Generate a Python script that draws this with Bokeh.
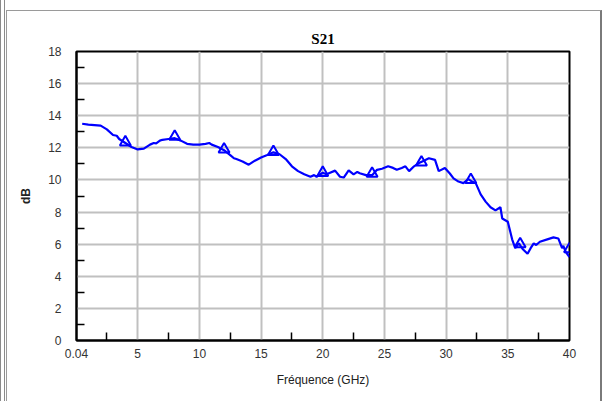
from bokeh.plotting import figure
from bokeh.models import Range1d, FixedTicker, ColumnDataSource, InlineStyleSheet
from bokeh.embed import file_html
from bokeh.resources import INLINE

# S21 trace (GHz, dB)
freq = [0.5, 1.0, 1.5, 2.0, 2.5, 3.0, 3.3, 3.5, 4.0, 4.5, 5.0, 5.5, 6.0, 6.3, 6.5,
        6.8, 7.0, 7.5, 8.0, 8.5, 9.0, 9.5, 10.0, 10.5, 10.8, 11.0, 11.5, 12.0,
        12.5, 12.8, 13.0, 13.5, 14.0, 14.5, 15.0, 15.5, 16.0, 16.5, 17.0, 17.5,
        18.0, 18.5, 19.0, 19.3, 19.5, 20.0, 20.3, 20.5, 21.0, 21.4, 21.7, 22.1,
        22.5, 22.8, 23.0, 23.5, 24.0, 24.4, 24.8, 25.3, 25.7, 26.0, 26.4, 26.7,
        27.0, 27.4, 27.8, 28.2, 28.6, 29.1, 29.4, 29.9, 30.3, 30.6, 31.0, 31.4,
        31.8, 32.1, 32.4, 32.8, 33.2, 33.6, 34.0, 34.4, 34.55, 35.0, 35.35, 35.6,
        35.9, 36.2, 36.6, 36.85, 37.1, 37.3, 37.6, 38.2, 38.7, 39.1, 39.4, 39.5,
        39.7, 40.0]
s21_db = [13.5, 13.45, 13.42, 13.38, 13.15, 12.8, 12.75, 12.55, 12.3, 12.05,
          11.9, 11.95, 12.2, 12.3, 12.28, 12.45, 12.5, 12.55, 12.6, 12.45, 12.25,
          12.2, 12.2, 12.25, 12.3, 12.2, 12.05, 11.85, 11.55, 11.35, 11.3, 11.15,
          10.95, 11.2, 11.4, 11.55, 11.72, 11.6, 11.3, 10.85, 10.55, 10.35, 10.2,
          10.3, 10.2, 10.45, 10.35, 10.42, 10.58, 10.2, 10.15, 10.6, 10.35, 10.5,
          10.42, 10.3, 10.3, 10.63, 10.7, 10.85, 10.75, 10.63, 10.75, 10.85, 10.55,
          10.85, 11.05, 11.2, 11.35, 11.25, 10.55, 10.75, 10.4, 10.1, 9.9, 9.8,
          10.05, 9.9, 9.8, 9.1, 8.65, 8.3, 8.1, 8.3, 7.6, 7.4, 6.3, 5.75, 6.05,
          5.7, 5.4, 5.75, 6.05, 5.95, 6.15, 6.3, 6.42, 6.35, 5.75, 5.9, 5.5, 5.2]

# marker positions
marker_freq = [4, 8, 12, 16, 20, 24, 28, 32, 36, 40]
marker_db = [12.35, 12.7, 11.9, 11.75, 10.45, 10.4, 11.1, 10.0, 6.0, 5.7]

x_ticks = [0.04, 5, 10, 15, 20, 25, 30, 35, 40]
x_minor = [2.5, 7.5, 12.5, 17.5, 22.5, 27.5, 32.5, 37.5]
y_ticks = [0, 2, 4, 6, 8, 10, 12, 14, 16, 18]
y_minor = [1, 3, 5, 7, 9, 11, 13, 15, 17]

frame_css = InlineStyleSheet(css="""
:host::after {
  content: ""; position: absolute; left: 6px; top: 10px; right: 4px; bottom: -10px;
  border-top: 1px solid #9a9a9a; border-left: 1px solid #9a9a9a;
  border-right: 2px solid #7a7a7a; pointer-events: none; z-index: 10;
}
:host::before {
  content: ""; position: absolute; left: 0px; top: 0px; width: 3px; bottom: 0px;
  border-left: 1px solid #8a8a8a; border-right: 1px solid #8a8a8a;
  pointer-events: none; z-index: 10;
}
""")

p = figure(width=606, height=401, output_backend="svg", toolbar_location=None,
           x_range=Range1d(0.04, 40), y_range=Range1d(0, 18),
           min_border_left=76, min_border_right=37, min_border_top=51,
           min_border_bottom=61, title="S21", stylesheets=[frame_css])

p.title.align = "center"
p.title.text_font = "Liberation Serif"
p.title.text_font_style = "bold"
p.title.text_font_size = "15px"
p.title.text_color = "black"
p.title.standoff = 10

p.outline_line_color = "black"
p.outline_line_width = 2
p.background_fill_color = "white"
p.border_fill_color = "white"

xt = FixedTicker(ticks=x_ticks, minor_ticks=x_minor)
yt = FixedTicker(ticks=y_ticks, minor_ticks=y_minor)
p.xaxis.ticker = xt
p.yaxis.ticker = yt
p.xaxis.major_label_overrides = {0.04: "0.04"}

for ax in (p.xaxis[0], p.yaxis[0]):
    ax.axis_line_color = "black"
    ax.axis_line_width = 2
    ax.major_tick_in = 0
    ax.major_tick_out = 0
    ax.minor_tick_in = 8
    ax.minor_tick_out = 0
    ax.minor_tick_line_color = "black"
    ax.minor_tick_line_width = 1.5
    ax.major_label_text_font = "Liberation Sans"
    ax.major_label_text_font_size = "12px"
    ax.major_label_text_color = "#333333"
    ax.axis_label_text_font = "Liberation Sans"
    ax.axis_label_text_font_size = "12px"
    ax.axis_label_text_color = "#222222"
    ax.axis_label_text_font_style = "normal"

p.xaxis.major_label_standoff = 8
p.yaxis.major_label_standoff = 15
p.xaxis.axis_label = "Fréquence (GHz)"
p.xaxis.axis_label_standoff = 12
p.yaxis.axis_label = "dB"
p.yaxis.axis_label_text_font_style = "bold"
p.yaxis.axis_label_standoff = 12

p.xgrid.grid_line_color = "#c0c0c0"
p.xgrid.grid_line_width = 2
p.ygrid.grid_line_color = "#c0c0c0"
p.ygrid.grid_line_width = 2

src = ColumnDataSource(dict(f=freq, db=s21_db))
p.line("f", "db", source=src, line_color="#0000ff", line_width=2.2)
msrc = ColumnDataSource(dict(f=marker_freq, db=marker_db))
p.scatter("f", "db", source=msrc, marker="triangle", size=11,
          fill_color=None, line_color="#0000ff", line_width=2)

open("out.html", "w").write(file_html(p, INLINE))
